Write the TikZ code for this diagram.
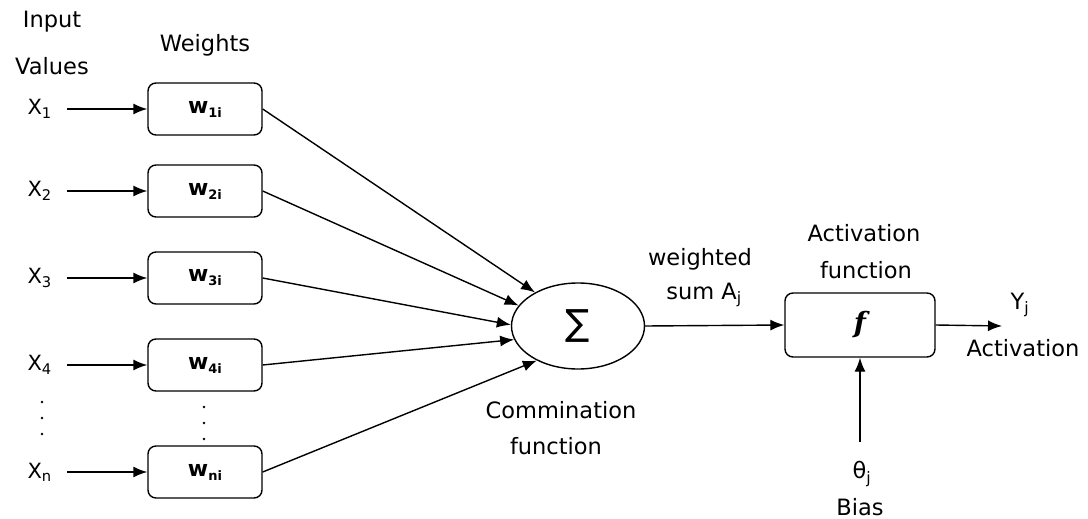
\documentclass[tikz,border=0pt]{standalone}
\usepackage{fontspec}
\setmainfont{DejaVu Sans}
\newfontfamily\serifbi{DejaVu Serif}
\usetikzlibrary{shapes.geometric,arrows.meta}
\begin{document}
\begin{tikzpicture}[x=1pt,y=-1pt,
  lbl/.style={font=\fontsize{22.5}{26}\selectfont, inner sep=0pt},
  xl/.style={font=\fontsize{21}{24}\selectfont, inner sep=0pt},
  wbox/.style={draw, line width=1.4pt, rounded corners=8pt, minimum width=114pt, minimum height=52pt, inner sep=0pt, font=\fontsize{22}{24}\selectfont},
  arr/.style={line width=1.4pt, -{Latex[length=14pt,width=11pt]}},
  dot/.style={circle, fill=black, inner sep=0pt, minimum size=2.6pt}]
\useasboundingbox (0,0) rectangle (1088,519);
% top labels
\node[lbl] (tin) at (52,22) {Input};
\node[lbl] (tval) at (52,66) {Values};
\node[lbl] (twt) at (205,45) {Weights};
% inputs and weights
\foreach \n/\s/\y in {1/1/109, 2/2/191, 3/3/278, 4/4/365, n/n/472}{
  \node[xl, anchor=east, inner xsep=15pt] (x\n) at (67,\y) {X\textsubscript{\s}};
  \node[wbox] (w\n) at (205,\y) {\textbf{w}\raisebox{-4pt}{\fontsize{13}{14}\selectfont\textbf{\s i}}};
  \draw[arr] (x\n.east) -- (w\n.west);
}
% dots
\node[dot] (d1) at (42,402) {};
\node[dot] (d2) at (42,418) {};
\node[dot] (d3) at (42,434) {};
\node[dot] (e1) at (204,407) {};
\node[dot] (e2) at (204,423) {};
\node[dot] (e3) at (204,439) {};
% summation
\node[ellipse, draw, line width=1.4pt, minimum width=133pt, minimum height=86pt, inner sep=0pt] (sum) at (578,326) {\fontsize{36}{36}\selectfont ∑};
\draw[arr] (w1.east) -- (sum.142);
\draw[arr] (w2.east) -- (sum.161);
\draw[arr] (w3.east) -- (sum.179);
\draw[arr] (w4.east) -- (sum.192);
\draw[arr] (wn.east) -- (sum.220);
\node[lbl] (comm1) at (561,410) {Commination};
\node[lbl] (comm2) at (556,446) {function};
% activation
\node[wbox, minimum width=150pt, minimum height=64pt] (f) at (860,325) {\serifbi\bfseries\itshape\fontsize{28}{28}\selectfont f};
\draw[arr] (sum.east) -- (f.west);
\node[lbl] (ws1) at (700,259) {weighted};
\node[lbl] (ws2) at (704,295) {sum A\textsubscript{j}};
\node[lbl] (af1) at (864,233) {Activation};
\node[lbl] (af2) at (866,270) {function};
\coordinate (out) at (1002,326);
\draw[arr] (f.east) -- (out);
\node[lbl] (yj) at (1020,305) {Y\textsubscript{j}};
\node[lbl] (act) at (1023,348) {Activation};
% bias
\coordinate (bin) at (860,442);
\draw[arr] (bin) -- (f.south);
\node[lbl] (th) at (862,474) {θ\textsubscript{j}};
\node[lbl] (bias) at (860,507) {Bias};
\end{tikzpicture}
\end{document}
